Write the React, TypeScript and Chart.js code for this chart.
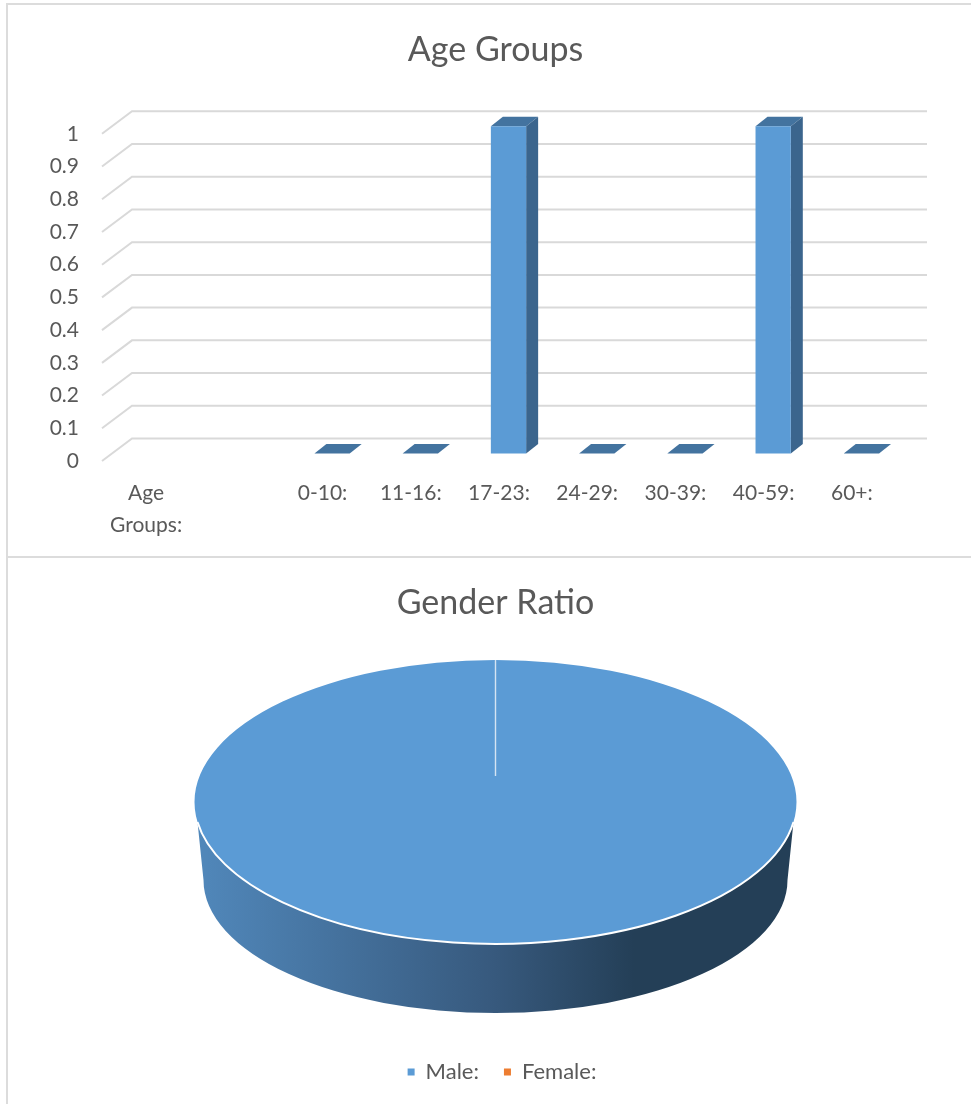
import React, { useEffect, useRef } from "react";
import { Chart, registerables } from "chart.js";

Chart.register(...registerables);

const ageTitle = "Age Groups";
const ageCategories: (string | string[])[] = [["Age", "Groups:"], "", "0-10:", "11-16:", "17-23:", "24-29:", "30-39:", "40-59:", "60+:"];
const ageValues: (number | null)[] = [null, null, 0, 0, 1, 0, 0, 1, 0];
const ageTicks = [0, 0.1, 0.2, 0.3, 0.4, 0.5, 0.6, 0.7, 0.8, 0.9, 1];

const genderTitle = "Gender Ratio";
const genderLabels = ["Male:", "Female:"];
const genderValues = [1, 0];

const FONT = "Lato, Carlito, Calibri, sans-serif";
const TEXT = "#595959";
const GRID = "#d9d9d9";
const BLUE = "#5b9bd5";
const ORANGE = "#ed7d31";

const wall3d = {
  id: "wall3d",
  beforeDatasetsDraw(chart: any) {
    const { ctx, scales } = chart;
    const y = scales.y;
    const x = scales.x;
    ctx.save();
    ctx.strokeStyle = GRID;
    ctx.lineWidth = 2;
    for (const t of y.ticks) {
      const py = y.getPixelForValue(t.value);
      ctx.beginPath();
      ctx.moveTo(x.left, py);
      ctx.lineTo(x.left + 30, py - 22.5);
      ctx.lineTo(x.right + 31, py - 22.5);
      ctx.stroke();
    }
    ctx.restore();

    // the bars stand half way into the floor's depth
    ctx.save();
    ctx.translate(9.5, -7.5);
    const meta = chart.getDatasetMeta(0);
    const values = chart.data.datasets[0].data;
    const dx = 12;
    const dy = 9.5;
    meta.data.forEach((bar: any, i: number) => {
      if (values[i] == null) return;
      const p = bar.getProps(["x", "y", "base", "width"], true);
      const l = p.x - p.width / 2;
      const r = p.x + p.width / 2;
      ctx.fillStyle = "#43739f";
      ctx.beginPath();
      ctx.moveTo(l, p.y);
      ctx.lineTo(l + dx, p.y - dy);
      ctx.lineTo(r + dx, p.y - dy);
      ctx.lineTo(r, p.y);
      ctx.closePath();
      ctx.fill();
      ctx.fillStyle = "#3b658d";
      ctx.beginPath();
      ctx.moveTo(r, p.y);
      ctx.lineTo(r + dx, p.y - dy);
      ctx.lineTo(r + dx, p.base - dy);
      ctx.lineTo(r, p.base);
      ctx.closePath();
      ctx.fill();
    });
  },
  afterDatasetsDraw(chart: any) {
    chart.ctx.restore();
  },
};

const PIE_CY = 245;
const PIE_RY = 142;
const PIE_RX = 301;
const LEGEND_SHIFT = 6.5;

const pie3d = {
  id: "pie3d",
  afterLayout(chart: any) {
    chart.legend.left += LEGEND_SHIFT;
    chart.legend.right += LEGEND_SHIFT;
  },
  beforeDatasetsDraw(chart: any) {
    const { ctx } = chart;
    const arc = chart.getDatasetMeta(0).data[0];
    const { x: cx, y: cy, outerRadius: R } = arc.getProps(["x", "y", "outerRadius"], true);
    const a = Math.asin(20 / PIE_RY);

    const g = ctx.createLinearGradient(cx - PIE_RX, 0, cx + PIE_RX, 0);
    g.addColorStop(0, "#5188bb");
    g.addColorStop(0.5, "#37597d");
    g.addColorStop(0.73, "#243f57");
    g.addColorStop(1, "#243f57");
    ctx.save();
    ctx.fillStyle = g;
    ctx.beginPath();
    ctx.ellipse(cx, PIE_CY, PIE_RX, PIE_RY, 0, a, Math.PI - a);
    ctx.lineTo(cx - 292, PIE_CY + 78);
    ctx.ellipse(cx, PIE_CY + 78, 292, 133, 0, Math.PI, 0, true);
    ctx.closePath();
    ctx.fill();
    ctx.restore();

    ctx.save();
    ctx.translate(cx, PIE_CY);
    ctx.scale(1, PIE_RY / R);
    ctx.translate(-cx, -cy);
  },
  afterDatasetsDraw(chart: any) {
    const { ctx } = chart;
    ctx.restore();
    const arc = chart.getDatasetMeta(0).data[0];
    const { x: cx } = arc.getProps(["x"], true);
    const a = Math.asin(20 / PIE_RY);
    ctx.save();
    ctx.strokeStyle = "#ffffff";
    ctx.lineWidth = 2;
    ctx.beginPath();
    ctx.ellipse(cx, PIE_CY, PIE_RX, PIE_RY, 0, a, Math.PI - a);
    ctx.stroke();
    ctx.strokeStyle = "#d5e4f3";
    ctx.lineWidth = 1.4;
    ctx.beginPath();
    ctx.moveTo(cx, PIE_CY - PIE_RY);
    ctx.lineTo(cx, PIE_CY - 26);
    ctx.stroke();
    ctx.restore();
  },
};

export default function App() {
  const barRef = useRef<HTMLCanvasElement>(null);
  const pieRef = useRef<HTMLCanvasElement>(null);

  useEffect(() => {
    const bar = new Chart(barRef.current!, {
      type: "bar",
      data: {
        labels: ageCategories as any,
        datasets: [
          {
            data: ageValues as any,
            backgroundColor: BLUE,
            barPercentage: 0.4,
            categoryPercentage: 1,
            clip: false as any,
          },
        ],
      },
      options: {
        responsive: false,
        animation: false,
        devicePixelRatio: 1,
        layout: { padding: { left: 20, right: 0, top: 0, bottom: 0 } },
        plugins: {
          legend: { display: false },
          tooltip: { enabled: false },
          title: {
            display: true,
            text: ageTitle,
            color: TEXT,
            font: { family: FONT, size: 34, weight: "normal", lineHeight: 1.2 },
            padding: { top: 30, bottom: 63 },
          },
        },
        scales: {
          x: {
            grid: { display: false },
            border: { display: false },
            ticks: {
              autoSkip: false,
              maxRotation: 0,
              minRotation: 0,
              padding: 8,
              color: TEXT,
              font: { family: FONT, size: 21, lineHeight: 1.52 },
            },
            afterFit(s: any) {
              s.height = 94;
            },
          },
          y: {
            min: 0,
            max: 1,
            grid: { display: false, drawTicks: false },
            border: { display: false },
            afterBuildTicks(s: any) {
              s.ticks = ageTicks.map((value) => ({ value }));
            },
            ticks: {
              padding: 23,
              color: TEXT,
              font: { family: FONT, size: 21, lineHeight: 1.2 },
              callback: (v: any) => String(v),
            },
            afterFit(s: any) {
              s.width = 82;
            },
          },
          yR: {
            position: "right",
            display: true,
            grid: { display: false },
            border: { display: false },
            ticks: { display: false },
            afterFit(s: any) {
              s.width = 75;
            },
          },
        },
      },
      plugins: [wall3d],
    } as any);

    const pie = new Chart(pieRef.current!, {
      type: "pie",
      data: {
        labels: genderLabels,
        datasets: [
          {
            data: genderValues,
            backgroundColor: [BLUE, ORANGE],
            borderWidth: 0,
            radius: PIE_RX,
            clip: false as any,
          },
        ],
      },
      options: {
        responsive: false,
        animation: false,
        devicePixelRatio: 1,
        layout: { padding: { left: 20, right: 0, top: 0, bottom: 11 } },
        plugins: {
          tooltip: { enabled: false },
          title: {
            display: true,
            text: genderTitle,
            color: TEXT,
            font: { family: FONT, size: 34, weight: "normal", lineHeight: 1.2 },
            padding: { top: 26, bottom: 20 },
          },
          legend: {
            position: "bottom",
            labels: {
              color: TEXT,
              font: { family: FONT, size: 22 },
              boxWidth: 7,
              boxHeight: 7,
              padding: 25,
            },
          },
        },
      },
      plugins: [pie3d],
    } as any);

    return () => {
      bar.destroy();
      pie.destroy();
    };
  }, []);

  const line: React.CSSProperties = { position: "absolute", background: "#dcdcdc" };
  return (
    <div style={{ position: "absolute", left: 0, top: 0, width: 971, height: 1104, overflow: "hidden", background: "#fff" }}>
      <canvas ref={barRef} width={971} height={555} style={{ position: "absolute", left: 0, top: 0, display: "block" }} />
      <canvas ref={pieRef} width={971} height={547} style={{ position: "absolute", left: 0, top: 557, display: "block" }} />
      <div style={{ ...line, left: 6, top: 3, width: 965, height: 2 }} />
      <div style={{ ...line, left: 6, top: 3, width: 2, height: 1101 }} />
      <div style={{ ...line, left: 6, top: 556, width: 965, height: 2 }} />
    </div>
  );
}
